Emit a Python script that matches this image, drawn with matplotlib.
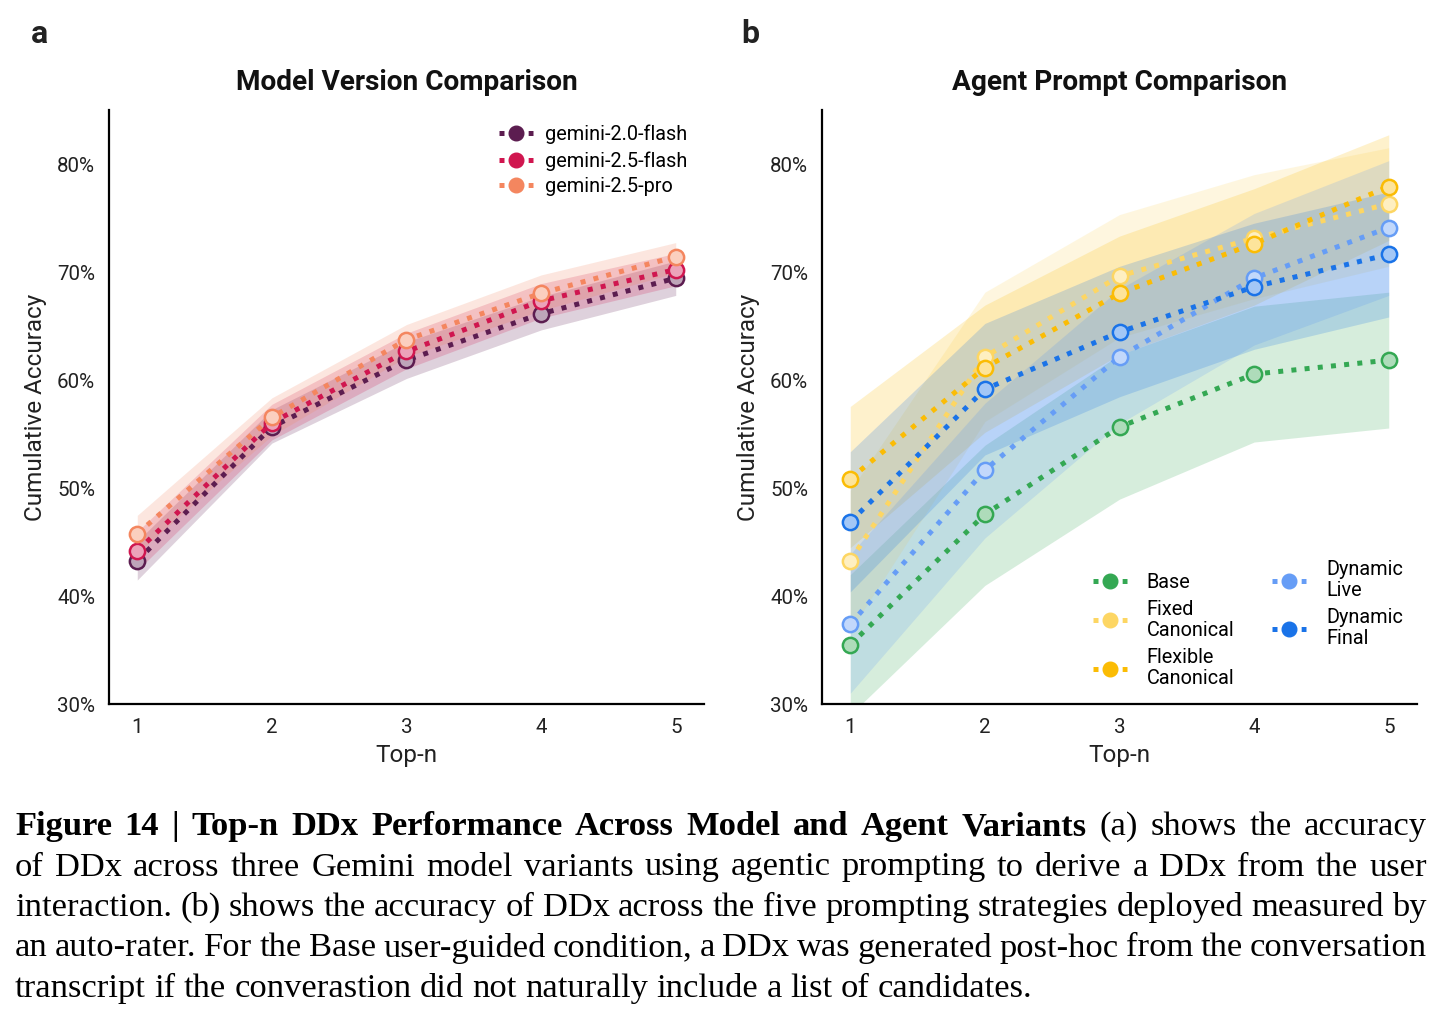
import matplotlib
matplotlib.use("Agg")
import matplotlib.pyplot as plt
from matplotlib.colors import to_rgb
from matplotlib.lines import Line2D

plt.rcParams['font.family'] = ['Roboto', 'DejaVu Sans']

W, H = 1443, 1018

# ---------------- data ----------------
topn = [1, 2, 3, 4, 5]
ytick_vals = [30, 40, 50, 60, 70, 80]

model_names = ["gemini-2.0-flash", "gemini-2.5-flash", "gemini-2.5-pro"]
model_colors = ["#5c1d50", "#d0164f", "#f4865f"]
flash20_mean = [43.3, 55.7, 61.9, 66.2, 69.5]
flash20_lo = [41.5, 54.2, 60.2, 64.7, 67.9]
flash20_hi = [45.1, 57.3, 63.6, 67.8, 71.1]
flash25_mean = [44.2, 56.1, 62.7, 67.4, 70.3]
flash25_lo = [42.4, 54.5, 61.1, 65.8, 68.8]
flash25_hi = [46.0, 57.8, 64.4, 69.0, 71.8]
pro25_mean = [45.8, 56.6, 63.8, 68.1, 71.5]
pro25_lo = [44.0, 54.9, 62.2, 66.5, 70.0]
pro25_hi = [47.5, 58.4, 65.2, 69.8, 72.8]

agent_names = ["Base", "Fixed\nCanonical", "Flexible\nCanonical", "Dynamic\nLive", "Dynamic\nFinal"]
agent_colors = ["#34a853", "#fdd663", "#fbbc04", "#669df6", "#1a73e8"]
base_mean = [35.5, 47.6, 55.7, 60.6, 61.9]
base_lo = [29.0, 41.0, 49.0, 54.3, 55.6]
base_hi = [42.0, 54.0, 62.4, 66.9, 68.2]
fixed_mean = [43.3, 62.2, 69.7, 73.2, 76.4]
fixed_lo = [36.8, 56.2, 64.0, 67.6, 70.6]
fixed_hi = [49.8, 68.2, 75.4, 79.1, 81.6]
flex_mean = [50.9, 61.2, 68.1, 72.7, 78.0]
flex_lo = [44.5, 55.2, 62.4, 67.0, 73.0]
flex_hi = [57.6, 67.0, 73.4, 77.8, 82.8]
dlive_mean = [37.4, 51.7, 62.2, 69.5, 74.2]
dlive_lo = [31.0, 45.4, 56.0, 63.3, 67.9]
dlive_hi = [43.9, 57.9, 68.5, 75.5, 80.4]
dfinal_mean = [46.9, 59.2, 64.5, 68.7, 71.7]
dfinal_lo = [40.4, 53.1, 58.5, 62.9, 65.9]
dfinal_hi = [53.4, 65.3, 70.6, 74.6, 77.5]

model_series = [(flash20_mean, flash20_lo, flash20_hi),
                (flash25_mean, flash25_lo, flash25_hi),
                (pro25_mean, pro25_lo, pro25_hi)]
agent_series = [(base_mean, base_lo, base_hi),
                (fixed_mean, fixed_lo, fixed_hi),
                (flex_mean, flex_lo, flex_hi),
                (dlive_mean, dlive_lo, dlive_hi),
                (dfinal_mean, dfinal_lo, dfinal_hi)]

caption_lines = [
    [("Figure 14 | Top-n DDx Performance Across Model and Agent Variants", "bold"),
     ("(a) shows the accuracy", "normal")],
    [("of DDx across three Gemini model variants using agentic prompting to derive a DDx from the user", "normal")],
    [("interaction.  (b) shows the accuracy of DDx across the five prompting strategies deployed measured by", "normal")],
    [("an auto-rater. For the Base user-guided condition, a DDx was generated post-hoc from the conversation", "normal")],
    [("transcript if the converastion did not naturally include a list of candidates.", "normal")],
]

# ---------------- figure ----------------
fig = plt.figure(figsize=(W / 100, H / 100), dpi=100)
axa = fig.add_axes([109 / W, 1 - 704 / H, (704 - 109) / W, (704 - 110) / H])
axb = fig.add_axes([822 / W, 1 - 704 / H, (1417 - 822) / W, (704 - 110) / H])


def style(ax, title):
    ax.set_xlim(0.79, 5.21)
    ax.set_ylim(30, 85.1)
    ax.set_xticks(topn)
    ax.set_yticks(ytick_vals)
    ax.set_yticklabels([f"{v}%" for v in ytick_vals])
    for s in ["top", "right"]:
        ax.spines[s].set_visible(False)
    for s in ["left", "bottom"]:
        ax.spines[s].set_linewidth(1.6)
        ax.spines[s].set_color("black")
    ax.tick_params(length=0, labelsize=14.8, pad=10, colors="#222222")
    ax.set_xlabel("Top-n", fontsize=17.5, labelpad=5, color="#222222")
    ax.set_ylabel("Cumulative Accuracy", fontsize=17.5, labelpad=7, color="#222222")
    ax.set_title(title, fontsize=20.2, fontweight="bold", pad=14.5, color="#111111")


def light(c, a=0.4):
    r, g, b = to_rgb(c)
    return (1 - a + a * r, 1 - a + a * g, 1 - a + a * b)


LEG_FS = 14.3
LEG_HL = 1.72
LW = 3.6
gap_lw = (LEG_HL * LEG_FS - 2 * LW) / LW


def draw(ax, series, colors, names, alpha):
    for (m, lo, hi), c in zip(series, colors):
        ax.fill_between(topn, lo, hi, color=c, alpha=alpha, linewidth=0, zorder=1)
    handles = []
    for (m, lo, hi), c, n in zip(series, colors, names):
        ax.plot(topn, m, linestyle=":", lw=LW, color=c, dash_capstyle="butt",
                marker="o", ms=11, mfc=light(c), mec=c, mew=1.8, zorder=3)
        handles.append(Line2D([], [], linestyle=(0, (1, gap_lw)), lw=LW, color=c,
                              dash_capstyle="butt", marker="o", ms=10.5,
                              mfc=c, mec=c, label=n))
    return handles


ha = draw(axa, model_series, model_colors, model_names, 0.2)
hb = draw(axb, agent_series, agent_colors, agent_names, 0.2)
style(axa, "Model Version Comparison")
style(axb, "Agent Prompt Comparison")

axa.legend(handles=ha, loc="upper left", bbox_to_anchor=(0.655, 0.975), frameon=False,
           fontsize=LEG_FS, borderpad=0, borderaxespad=0, handlelength=LEG_HL,
           handletextpad=0.6, labelspacing=0.34)
legb = axb.legend(handles=hb, loc="upper left", bbox_to_anchor=(0.455, 0.242), frameon=False,
                  ncol=2, fontsize=LEG_FS, borderpad=0, borderaxespad=0, handlelength=LEG_HL,
                  handletextpad=1.0, labelspacing=0.42, columnspacing=1.9)
for t in legb.get_texts():
    t.set_linespacing(1.12)

fig.text(31 / W, 1 - 43 / H, "a", fontsize=23, fontweight="bold", color="#222222")
fig.text(741 / W, 1 - 43 / H, "b", fontsize=23, fontweight="bold", color="#222222")

# ---------------- caption (justified) ----------------
CAP_FONT = ["Liberation Serif", "DejaVu Serif"]
x0, x1 = 15, 1427
baselines = [835, 875.5, 916, 956.5, 997]
renderer = fig.canvas.get_renderer()


def make_words(fs):
    out = []
    for line in caption_lines:
        words = []
        for txt, wt in line:
            for w in txt.split(" "):
                if w:
                    t = fig.text(0, 0, w, fontsize=fs, fontweight=wt, family=CAP_FONT,
                                 va="baseline", ha="left", color="black")
                    words.append((t, t.get_window_extent(renderer).width))
        out.append(words)
    return out


fs = 26
lines = make_words(fs)
space = 0.22 * fs * 100 / 72
maxw = max(sum(w for _, w in ws) + space * (len(ws) - 1) for ws in lines)
if maxw > (x1 - x0):
    for ws in lines:
        for t, _ in ws:
            t.remove()
    fs = fs * (x1 - x0) / maxw
    lines = make_words(fs)
    space = 0.22 * fs * 100 / 72

for i, (ws, yb) in enumerate(zip(lines, baselines)):
    total = sum(w for _, w in ws)
    if i < len(lines) - 1 and len(ws) > 1:
        gap = (x1 - x0 - total) / (len(ws) - 1)
    else:
        gap = space * 1.1
    x = x0
    for t, w in ws:
        t.set_position((x / W, 1 - yb / H))
        x += w + gap

fig.savefig("out.png", dpi=100)
